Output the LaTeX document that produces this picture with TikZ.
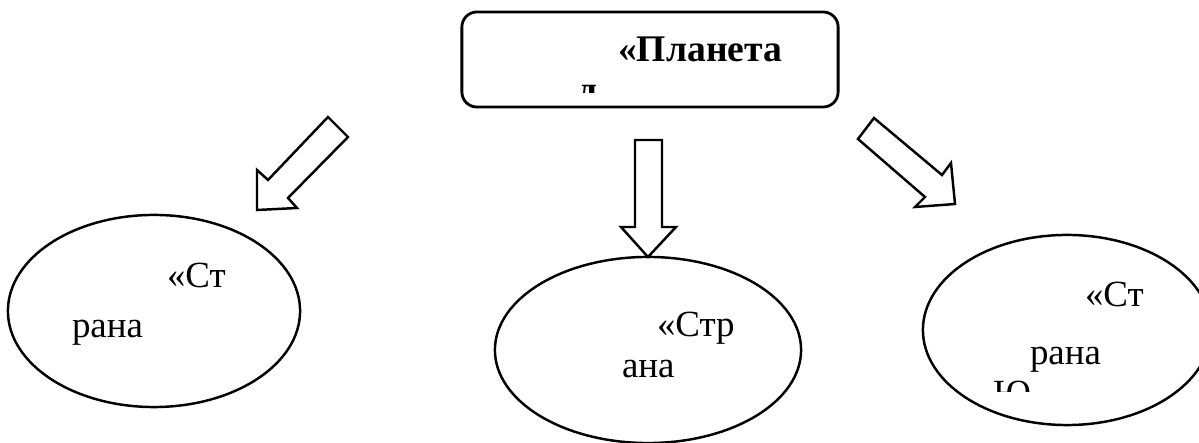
\documentclass[tikz,border=0pt]{standalone}
\usepackage{fontspec}
\setmainfont{Liberation Serif}
\usetikzlibrary{shapes.geometric}

\begin{document}
\begin{tikzpicture}[
  x=0.01cm, y=-0.01cm,
  every node/.style={inner sep=0pt, outer sep=0pt},
  titlebox/.style={draw, rounded corners=0.15cm, line width=0.8pt, minimum width=3.76cm, minimum height=0.95cm},
  country/.style={draw, ellipse, line width=0.7pt},
  blockarrow/.style={draw, line width=0.7pt, line join=miter},
  ctext/.style={anchor=base west, font=\fontsize{10.5}{12}\selectfont},
  ttext/.style={anchor=base west, font=\fontsize{10.7}{13}\selectfont\bfseries}
]
\useasboundingbox (0,0) rectangle (1199,443);

% title box
\node[titlebox] (planet) at (650,59.5) {};
\node[ttext] (planet1) at (618,62) {«Планета};
\begin{scope}
  \clip (462,12) rectangle (838,93);
  \node[ttext] (planet2) at (578,103) {д};
\end{scope}

% countries
\node[country, minimum width=2.92cm, minimum height=1.92cm] (west) at (154,311) {};
\node[ctext] (west1) at (167,288) {«Ст};
\node[ctext] (west2) at (72,338) {рана};

\node[country, minimum width=3.06cm, minimum height=1.86cm] (mid) at (648,350) {};
\node[ctext] (mid1) at (657,337) {«Стр};
\node[ctext] (mid2) at (622,378) {ана};

\node[country, minimum width=2.88cm, minimum height=1.90cm] (east) at (1067,330) {};
\node[ctext] (east1) at (1085,307) {«Ст};
\node[ctext] (east2) at (1030,365) {рана};
\begin{scope}
  \clip (923,235) rectangle (1199,392);
  \node[ctext] (east3) at (993,406) {Ю};
\end{scope}

% block arrows
\draw[blockarrow] (328,117) -- (348,137) -- (288,198) -- (297,208)
  -- (257,210) -- (257,170) -- (268,180) -- cycle;
\draw[blockarrow] (635,140) -- (662,140) -- (662,227) -- (676,227)
  -- (648,257) -- (621,227) -- (635,227) -- cycle;
\draw[blockarrow] (858,139) -- (874,118) -- (942,175) -- (951,163)
  -- (955,204) -- (915,207) -- (925,197) -- cycle;
\end{tikzpicture}
\end{document}
